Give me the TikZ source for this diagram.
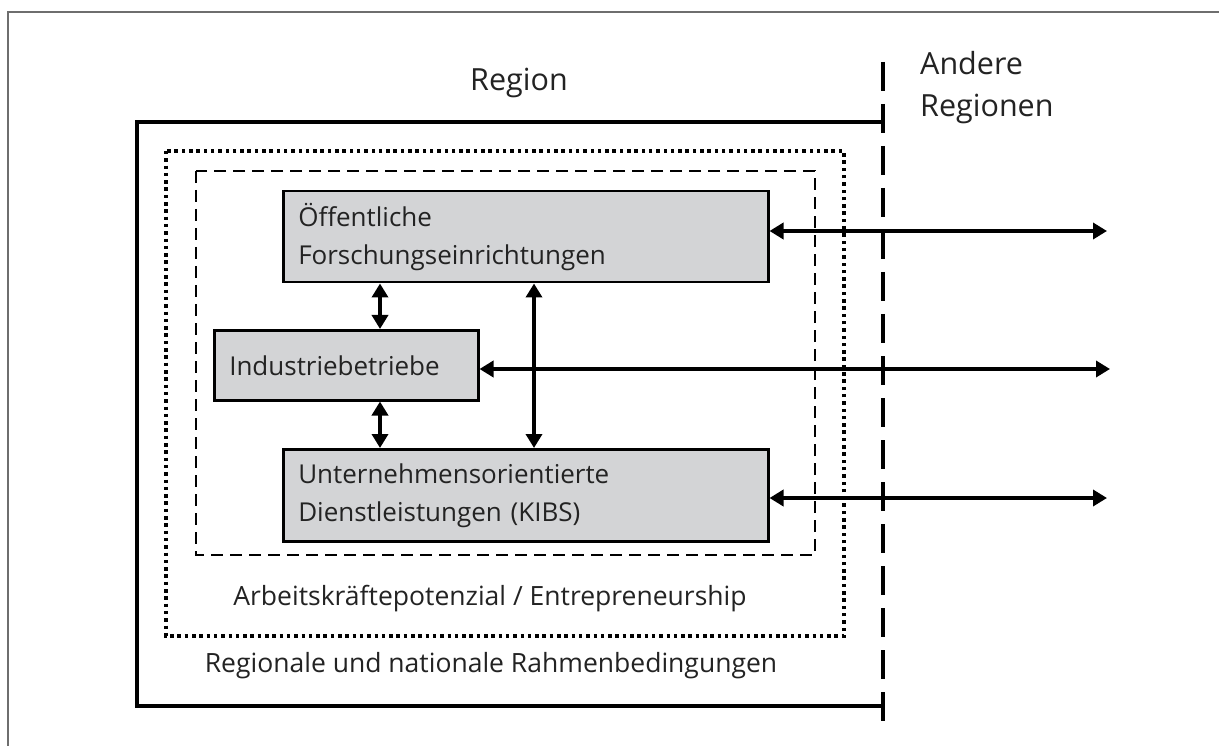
\documentclass[tikz,border=0pt]{standalone}
\usepackage{fontspec}
\setmainfont{Open Sans}
\usetikzlibrary{arrows.meta}
\definecolor{boxgray}{RGB}{211,212,214}
\definecolor{txt}{RGB}{35,35,35}
\definecolor{framegray}{RGB}{110,110,110}
\tikzset{
  box/.style={draw=black, line width=2.5pt, fill=boxgray, rectangle, anchor=north west,
    inner xsep=15pt, inner ysep=0pt, align=left, text=txt,
    font=\fontsize{26}{38}\selectfont},
  arr/.style={line width=4.5pt, {Triangle[length=14pt,width=16pt]}-{Triangle[length=14pt,width=16pt]}},
  lbl/.style={text=txt, inner sep=0pt},
  big/.style={font=\fontsize{30.5}{42}\selectfont},
  mid/.style={font=\fontsize{26.5}{37}\selectfont}
}
\begin{document}
\begin{tikzpicture}[x=1pt,y=-1pt]
\useasboundingbox (0,0) rectangle (1219,746);
\fill[white] (0,0) rectangle (1219,746);
% page frame
\draw[framegray, line width=2pt] (8,746) -- (8,12) -- (1219,12);
% region boundary (dashed vertical)
\coordinate (vtop) at (883,62);
\coordinate (vbot) at (883,727);
\draw[line width=3.5pt, dash pattern=on 29pt off 13pt] (vtop) -- (vbot);
% solid region box
\coordinate (rtr) at (883,122);
\coordinate (rbr) at (883,706);
\draw[line width=3.5pt] (rtr) -- (137,122) -- (137,706) -- (rbr);
% dotted box
\draw[line width=3.5pt, dash pattern=on 3.5pt off 3.8pt] (166,151) rectangle (844,636);
% dashed box
\draw[line width=2.5pt, dash pattern=on 12pt off 7pt] (196,171) rectangle (815,555);
% boxes
\node[box, minimum width=485pt, minimum height=91pt, text width=455pt] (oef) at (282,190)
  {Öffentliche\\Forschungseinrichtungen};
\node[box, minimum width=264pt, minimum height=70pt, text width=234pt] (ind) at (213,329)
  {Industriebetriebe};
\node[box, minimum width=485pt, minimum height=92pt, text width=455pt] (kibs) at (282,448)
  {Unternehmensorientierte\\Dienstleistungen (KIBS)};
% labels
\node[lbl, big, anchor=base] (reg) at (519,91) {Region};
\node[lbl, big, anchor=base west, align=left] (andere) at (920,117) {Andere\\Regionen};
\node[lbl, mid, anchor=base] (arb) at (490,605) {Arbeitskräftepotenzial / Entrepreneurship};
\node[lbl, mid, anchor=base] (rah) at (491,672) {Regionale und nationale Rahmenbedingungen};
% vertical arrows
\coordinate (xa) at (380,0);
\coordinate (xb) at (534,0);
\draw[arr] (xa |- oef.south) -- (xa |- ind.north);
\draw[arr] (xa |- ind.south) -- (xa |- kibs.north);
\draw[arr] (xb |- oef.south) -- (xb |- kibs.north);
% horizontal arrows
\coordinate (e1) at (1107,231);
\coordinate (e2) at (1110,369);
\coordinate (e3) at (1107,498);
\draw[arr] (oef.east |- e1) -- (e1);
\draw[arr] (ind.east |- e2) -- (e2);
\draw[arr] (kibs.east |- e3) -- (e3);
\end{tikzpicture}
\end{document}
